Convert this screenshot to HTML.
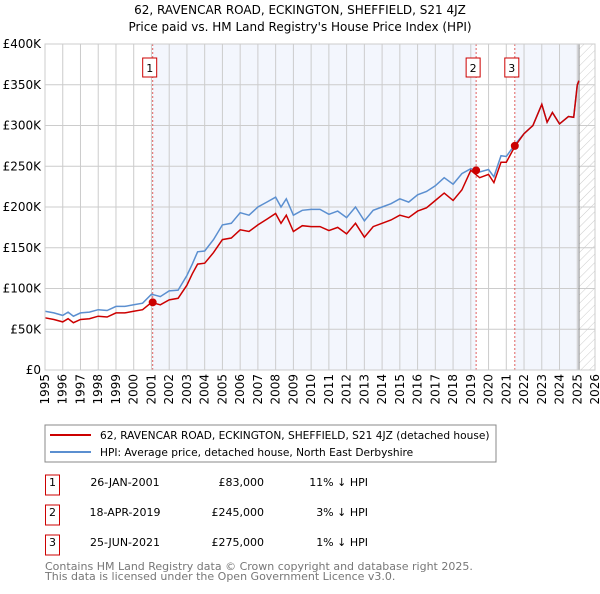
<!DOCTYPE html>
<html><head><meta charset="utf-8"><style>
body{margin:0;background:#fff;font-family:"DejaVu Sans","Liberation Sans",sans-serif;}
svg text{font-family:"DejaVu Sans","Liberation Sans",sans-serif;}
</style></head><body>
<svg id="c" width="600" height="590" xmlns="http://www.w3.org/2000/svg">
<defs><pattern id="h" width="6" height="6" patternUnits="userSpaceOnUse" patternTransform="rotate(45)"><line x1="0" y1="0" x2="0" y2="6" stroke="#ccc" stroke-width="1"/></pattern></defs>
<text x="300" y="14" text-anchor="middle" font-size="12">62, RAVENCAR ROAD, ECKINGTON, SHEFFIELD, S21 4JZ</text>
<text x="300" y="31" text-anchor="middle" font-size="12">Price paid vs. HM Land Registry's House Price Index (HPI)</text>
<g id="plot"></g>
<rect x="45" y="425" width="451" height="37" fill="#fff" stroke="#888"/>
<line x1="50" y1="435" x2="91" y2="435" stroke="#cc0000" stroke-width="2"/>
<text x="100" y="439" font-size="10.6">62, RAVENCAR ROAD, ECKINGTON, SHEFFIELD, S21 4JZ (detached house)</text>
<line x1="50" y1="452" x2="91" y2="452" stroke="#5b8fd0" stroke-width="2"/>
<text x="100" y="456" font-size="10.6">HPI: Average price, detached house, North East Derbyshire</text>
<g id="tbl" font-size="11"></g>
<text x="45" y="570" font-size="11" fill="#777">Contains HM Land Registry data © Crown copyright and database right 2025.</text>
<text x="45" y="580" font-size="11" fill="#777">This data is licensed under the Open Government Licence v3.0.</text>
</svg>
<script>
const yTicks=[0,50,100,150,200,250,300,350,400];
const xYears=[1995,1996,1997,1998,1999,2000,2001,2002,2003,2004,2005,2006,2007,2008,2009,2010,2011,2012,2013,2014,2015,2016,2017,2018,2019,2020,2021,2022,2023,2024,2025,2026];
const hpiT=[1995,1995.5,1996,1996.3,1996.6,1997,1997.5,1998,1998.5,1999,1999.5,2000,2000.5,2001,2001.5,2002,2002.5,2003,2003.3,2003.6,2004,2004.5,2005,2005.5,2006,2006.5,2007,2007.5,2008,2008.3,2008.6,2009,2009.5,2010,2010.5,2011,2011.5,2012,2012.5,2013,2013.5,2014,2014.5,2015,2015.5,2016,2016.5,2017,2017.5,2018,2018.5,2019,2019.5,2020,2020.3,2020.7,2021,2021.5,2022,2022.5,2023,2023.3,2023.6,2024,2024.5,2024.8,2025,2025.1];
const hpiV=[72,70,67,71,66,70,71,74,73,78,78,80,82,93,90,97,98,116,130,145,146,160,178,180,193,190,200,206,212,200,210,190,196,197,197,191,195,187,200,183,196,200,204,210,206,215,219,226,236,228,241,247,243,246,237,263,262,277,290,300,326,304,316,302,311,310,350,355];
const redV=[64,62,59,63,58,62,63,66,65,70,70,72,74,83,80,86,88,104,118,130,131,144,160,162,172,170,178,185,192,180,190,170,177,176,176,171,175,167,180,163,176,180,184,190,187,195,199,208,217,208,221,245,236,240,230,255,255,275,290,300,326,304,316,302,311,310,350,355];
const sales=[{t:2001.07,v:83,n:'1',d:'26-JAN-2001',p:'£83,000',h:'11% ↓ HPI'},{t:2019.3,v:245,n:'2',d:'18-APR-2019',p:'£245,000',h:'3% ↓ HPI'},{t:2021.48,v:275,n:'3',d:'25-JUN-2021',p:'£275,000',h:'1% ↓ HPI'}];
const X0=45,X1=595,Y0=370,Y1=44;
const xs=t=>X0+(t-1995)/31*(X1-X0);
const ys=v=>Y0-v/400*(Y0-Y1);
const NS='http://www.w3.org/2000/svg';
const g=document.getElementById('plot');
function mk(tag,a,p){const e=document.createElementNS(NS,tag);for(const k in a)e.setAttribute(k,a[k]);(p||g).appendChild(e);return e;}
let e;
e=mk('rect',{x:X0,y:Y1,width:X1-X0,height:Y0-Y1,fill:'#fff'});


e=mk('rect',{x:xs(sales[0].t),y:Y1,width:xs(sales[1].t)-xs(sales[0].t),height:Y0-Y1,fill:'#f3f6fd'});


e=mk('rect',{x:xs(sales[2].t),y:Y1,width:xs(2025.1)-xs(sales[2].t),height:Y0-Y1,fill:'#f3f6fd'});


e=mk('rect',{x:xs(2025.1),y:Y1,width:X1-xs(2025.1),height:Y0-Y1,fill:'url(#h)'});


yTicks.forEach(v=>{
 e=mk('line',{x1:X0,x2:X1,y1:ys(v),y2:ys(v),stroke:'#ccc'});
 
 
 e=mk('text',{x:X0-4,y:ys(v)+4,'text-anchor':'end','font-size':12});
 e.textContent=v?'£'+v+'K':'£0';
 
 
});
xYears.forEach(y=>{
 e=mk('line',{x1:xs(y),x2:xs(y),y1:Y1,y2:Y0,stroke:'#ccc'});
 
 
 e=mk('text',{x:0,y:0,'font-size':12,'text-anchor':'end',transform:`translate(${xs(y)+4},${Y0+4}) rotate(-90)`});
 e.textContent=y;
 
 
});
e=mk('line',{x1:xs(2025.1),x2:xs(2025.1),y1:Y1,y2:Y0,stroke:'#888'});


sales.forEach(s=>{
 e=mk('line',{x1:xs(s.t),x2:xs(s.t),y1:Y1,y2:Y0,stroke:'#e06060','stroke-dasharray':'2,2'});
 
 
 e=mk('rect',{x:xs(s.t)-10,y:58,width:14,height:19,fill:'#fff',stroke:'#c00'});
 
 
 e=mk('text',{x:xs(s.t)-3,y:72,'text-anchor':'middle','font-size':11});
 e.textContent=s.n;
 
 
});
const pth=v=>hpiT.map((t,i)=>(i?'L':'M')+xs(t).toFixed(1)+','+ys(v[i]).toFixed(1)).join('');
e=mk('path',{d:pth(hpiV),fill:'none',stroke:'#5b8fd0','stroke-width':1.5});


e=mk('path',{d:pth(redV),fill:'none',stroke:'#cc0000','stroke-width':1.5});


sales.forEach(s=>{
 e=mk('circle',{cx:xs(s.t),cy:ys(s.v),r:4,fill:'#cc0000'});
 
 
});
e=mk('rect',{x:X0,y:Y1,width:X1-X0,height:Y0-Y1,fill:'none',stroke:'#ccc'});


const tb=document.getElementById('tbl');
sales.forEach((s,i)=>{
 const cy=485+i*30;
 e=mk('rect',{x:45.5,y:cy-10,width:14,height:20,fill:'#fff',stroke:'#c00'},tb);
 
 
 e=mk('text',{x:52.5,y:cy+1,'text-anchor':'middle'},tb);e.textContent=s.n;
 
 
 e=mk('text',{x:125,y:cy+1,'text-anchor':'middle'},tb);e.textContent=s.d;
 
 
 e=mk('text',{x:264,y:cy+1,'text-anchor':'end'},tb);e.textContent=s.p;
 
 
 e=mk('text',{x:368,y:cy+1,'text-anchor':'end'},tb);e.textContent=s.h;
 
 
});
</script>
</body></html>
